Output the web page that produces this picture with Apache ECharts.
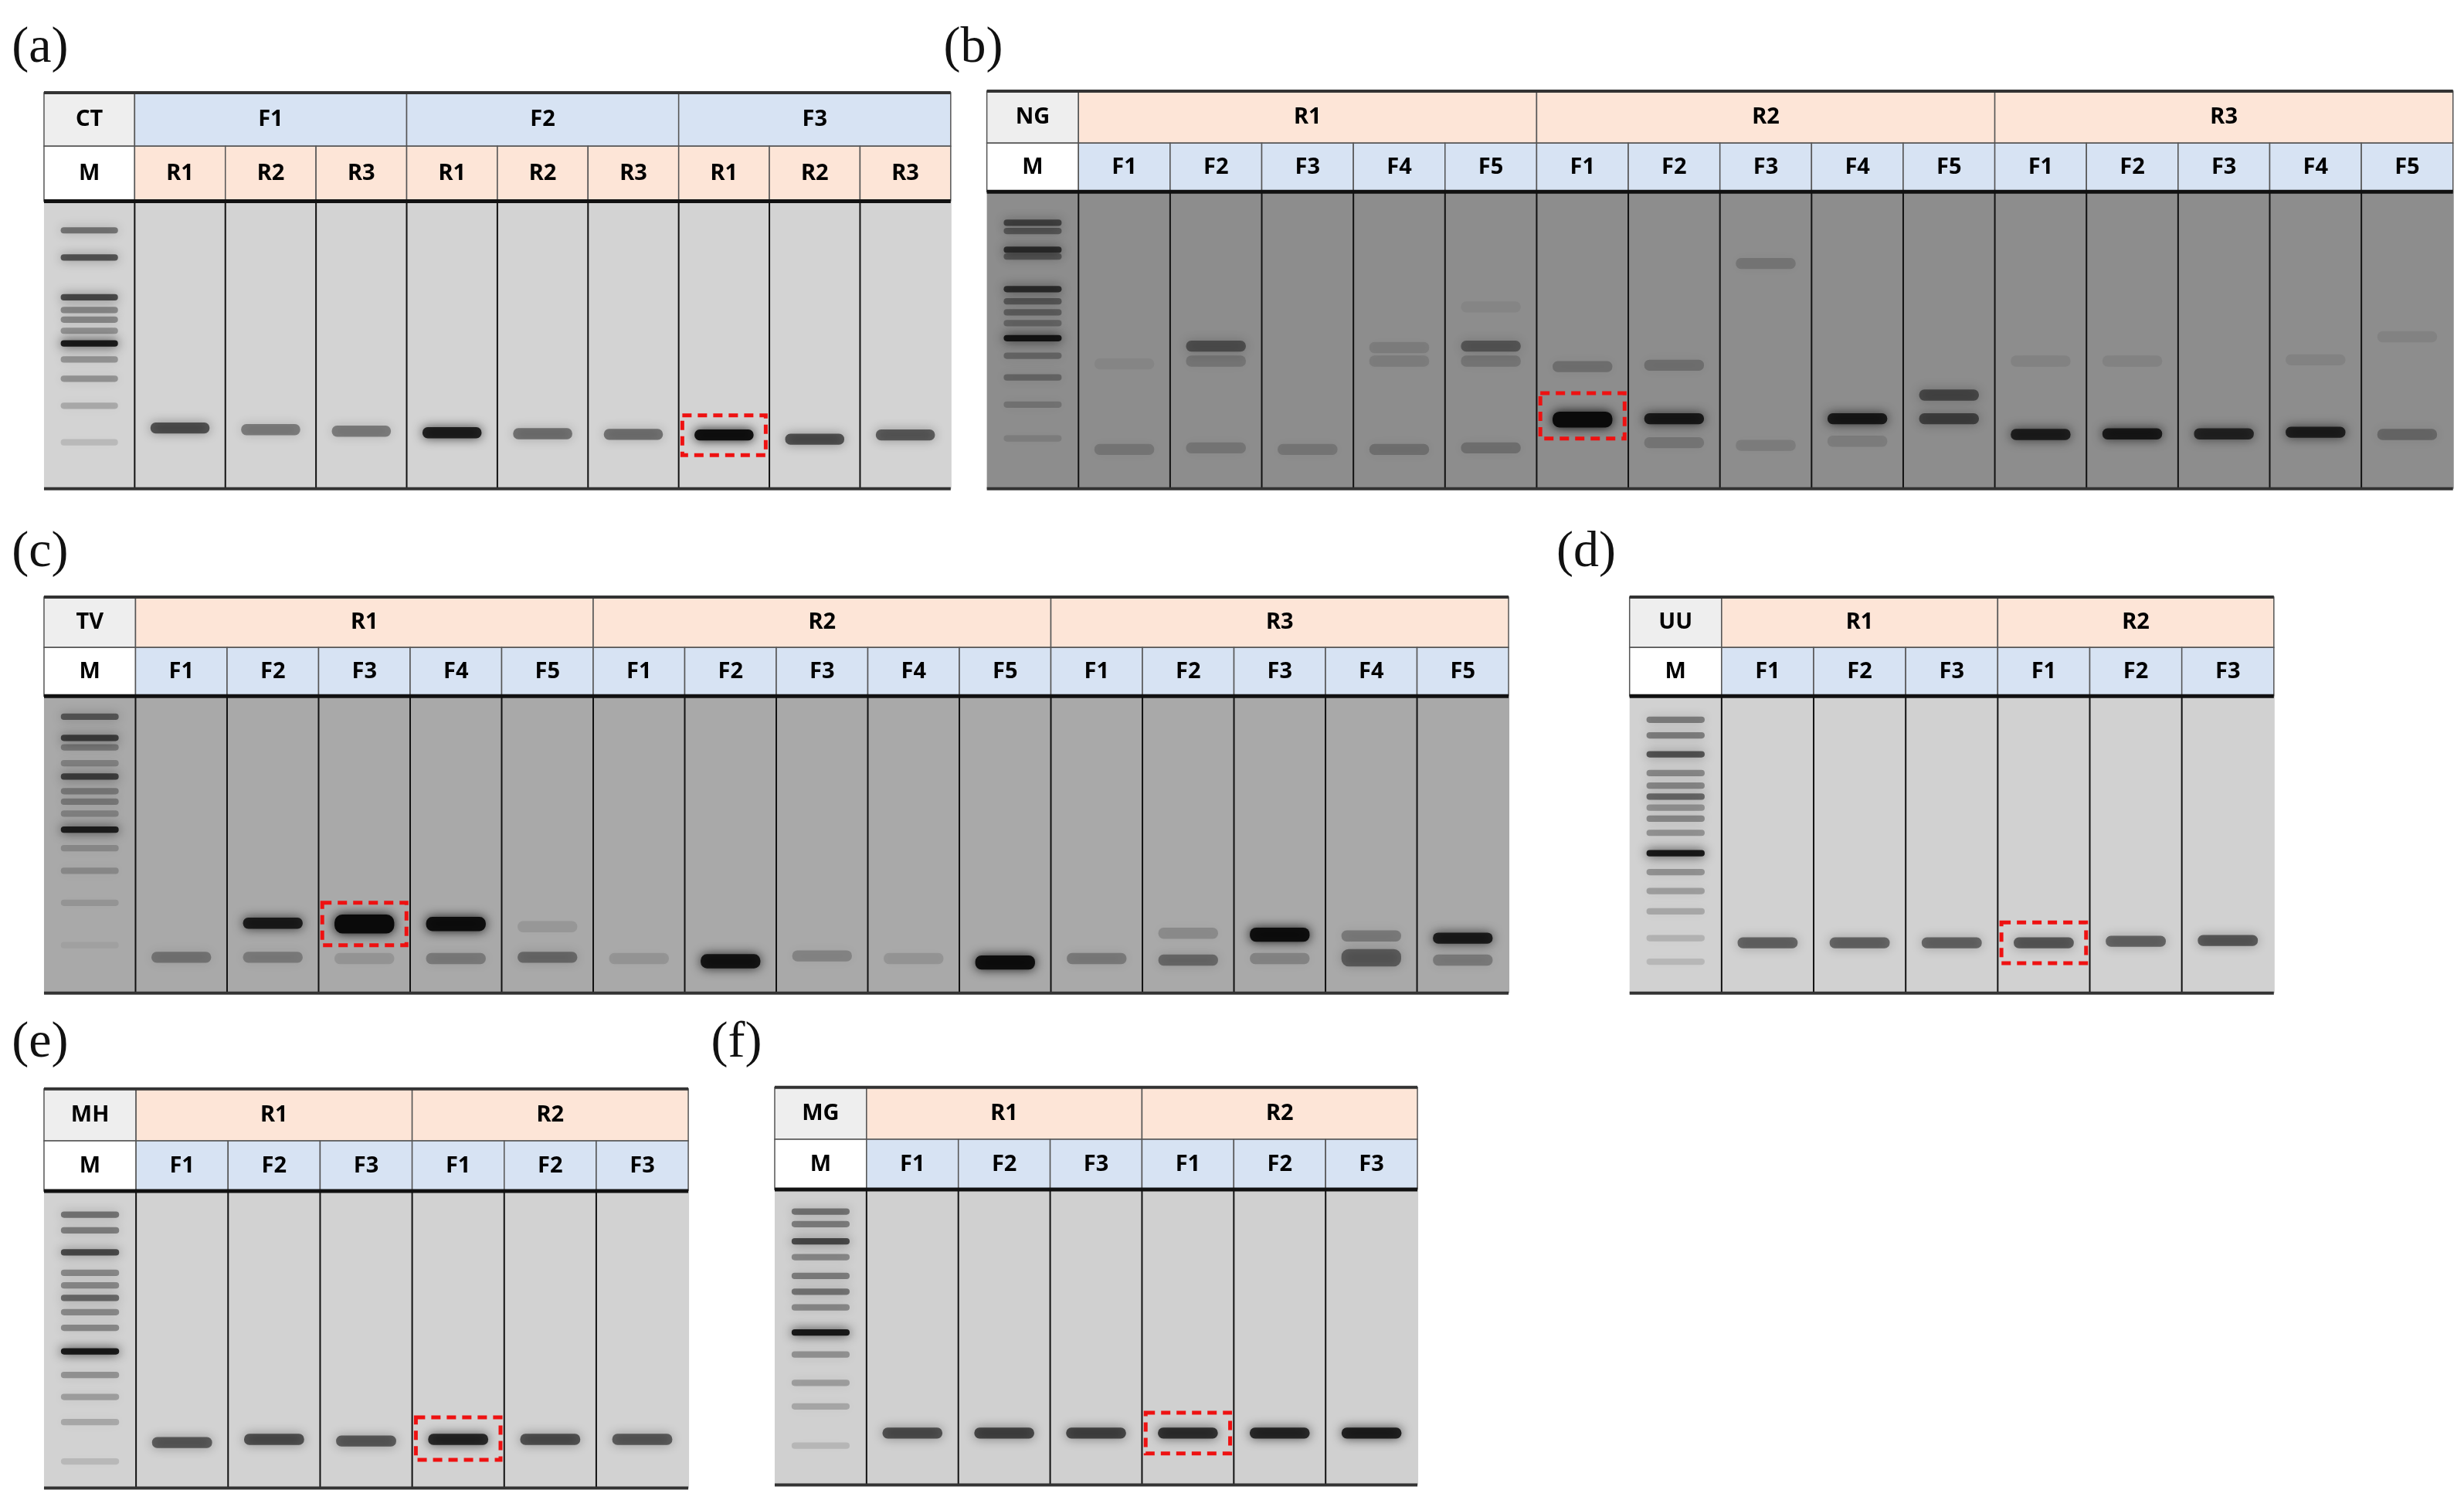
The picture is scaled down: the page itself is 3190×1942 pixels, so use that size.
<!DOCTYPE html>
<html>
<head>
<meta charset="utf-8">
<script src="https://cdn.jsdelivr.net/npm/echarts@6/dist/echarts.min.js"></script>
<style>html,body{margin:0;padding:0;background:#fff}#chart{width:3190px;height:1942px}</style>
</head>
<body>
<div id="chart"></div>
<script>
// 参考图按 1568 宽度读数，绘制时放大
const S = 3190 / 1568

const R3 = ['R1', 'R2', 'R3']
const R2 = ['R1', 'R2']
const F3 = ['F1', 'F2', 'F3']
const F5 = ['F1', 'F2', 'F3', 'F4', 'F5']

// 条带: [泳道, 位置, 强度, 高度]
const ladderA = [[146.6, .45], [163.9, .6], [189.2, .65], [197.3, .35], [203.4, .35], [210.5, .3], [218.6, .9], [228.8, .3], [241, .3], [258.2, .2], [281.5, .12]]
const bandsA = [[1, 272.4, .6], [2, 273.4, .4], [3, 274.4, .4], [4, 275.4, .85], [5, 276, .45], [6, 276.4, .45], [7, 276.8, .95], [8, 279.5, .6], [9, 276.8, .55]]
const boxA = [7, 264.3, 289.6]

const ladderB = [[141.8, .55], [147, .4], [159, .7], [163.3, .4], [184, .7], [191.8, .4], [198.8, .35], [205.7, .3], [215.2, .9], [226.4, .3], [240.2, .3], [257.5, .2], [279, .12]]
const bandsB = [
  [1, 231.6, .06], [1, 286, .18],
  [2, 220.3, .45], [2, 229.8, .18], [2, 285, .18],
  [3, 286, .18],
  [4, 221.2, .12], [4, 229.8, .12], [4, 286, .22],
  [5, 195.3, .06], [5, 220.3, .4], [5, 229.8, .18], [5, 285, .22],
  [6, 233.3, .22], [6, 267, 1, 13],
  [7, 232.4, .22], [7, 266.5, .85], [7, 281.7, .18],
  [8, 167.7, .18], [8, 283.4, .12],
  [9, 266.5, .85], [9, 280.8, .12],
  [10, 251.4, .5], [10, 266.5, .55],
  [11, 229.8, .08], [11, 276.5, .8],
  [12, 229.8, .08], [12, 276.1, .85],
  [13, 276.1, .75],
  [14, 229, .08], [14, 275.1, .8],
  [15, 214.3, .08], [15, 276.5, .28]
]
const boxB = [6, 250.2, 279.1]

const ladderC = [[456.1, .5], [469.6, .65], [475.6, .3], [485.7, .25], [494.2, .65], [503.5, .3], [510.2, .3], [517.8, .25], [528, .85], [539.8, .2], [554.2, .2], [574.5, .12], [601.5, .06]]
const bandsC = [
  [1, 609.2, .32],
  [2, 587.5, .85], [2, 609.2, .28],
  [3, 588, 1, 15], [3, 610, .12],
  [4, 588, .95, 12], [4, 610, .28],
  [5, 589.7, .1], [5, 609.2, .38],
  [6, 610, .12],
  [7, 611.7, .9, 12],
  [8, 608.3, .22],
  [9, 610, .12],
  [10, 612.5, .95, 12],
  [11, 610, .28],
  [12, 593.9, .18], [12, 611, .38],
  [13, 594.8, .95, 12], [13, 610, .22],
  [14, 595.6, .28], [14, 609.5, .45, 14],
  [15, 597, .85], [15, 611, .28]
]
const boxC = [3, 574.5, 601.5]

const ladderD = [[458, .4], [468, .4], [480, .6], [492, .35], [500, .35], [507, .5], [514, .3], [521, .35], [530, .3], [543, .9], [555, .3], [567, .25], [580, .2], [597, .15], [612, .12]]
const bandsD = [[1, 600, .5], [2, 600, .5], [3, 600, .5], [4, 600, .55], [5, 599, .5], [6, 598.5, .55]]
const boxD = [4, 587, 613]

const ladderE = [[773, .45], [783, .4], [797, .65], [810, .35], [818, .35], [826, .5], [835, .35], [845, .35], [860, .9], [875, .3], [889, .25], [905, .2], [930, .12]]
const bandsE = [[1, 918, .55], [2, 916, .6], [3, 917, .55], [4, 916, .8], [5, 916, .6], [6, 916, .55]]
const boxE = [4, 902, 929]

const ladderF = [[771, .45], [779, .4], [790, .65], [800, .35], [812, .4], [822, .45], [832, .35], [848, .9], [862, .3], [880, .25], [895, .2], [920, .12]]
const bandsF = [[1, 912, .6], [2, 912, .65], [3, 912, .65], [4, 912, .75], [5, 912, .8], [6, 912, .85]]
const boxF = [4, 899, 925]

const BLUE = '#d7e3f3'
const PEACH = '#fde5d7'

const panels = [
  { tag: '(a)', lx: 5, ly: 12, box: [28, 605, 59, 93, 128, 311], corner: 'CT', top: F3, sub: R3, topColor: BLUE, subColor: PEACH, gel: '#d3d3d3', ladder: ladderA, bands: bandsA, red: boxA },
  { tag: '(b)', lx: 598, ly: 12, box: [628, 1561, 58, 91, 122, 311], corner: 'NG', top: R3, sub: F5, topColor: PEACH, subColor: BLUE, gel: '#8d8d8d', ladder: ladderB, bands: bandsB, red: boxB },
  { tag: '(c)', lx: 5, ly: 333, box: [28, 960, 380, 412, 443, 632], corner: 'TV', top: R3, sub: F5, topColor: PEACH, subColor: BLUE, gel: '#a9a9a9', ladder: ladderC, bands: bandsC, red: boxC },
  { tag: '(d)', lx: 988, ly: 333, box: [1037, 1447, 380, 412, 443, 632], corner: 'UU', top: R2, sub: F3, topColor: PEACH, subColor: BLUE, gel: '#d1d1d1', ladder: ladderD, bands: bandsD, red: boxD },
  { tag: '(e)', lx: 5, ly: 645, box: [28, 438, 693, 726, 758, 947], corner: 'MH', top: R2, sub: F3, topColor: PEACH, subColor: BLUE, gel: '#d2d2d2', ladder: ladderE, bands: bandsE, red: boxE },
  { tag: '(f)', lx: 450, ly: 645, box: [493, 902, 692, 725, 757, 945], corner: 'MG', top: R2, sub: F3, topColor: PEACH, subColor: BLUE, gel: '#d0d0d0', ladder: ladderF, bands: bandsF, red: boxF }
]

const FONT = '"Liberation Sans Narrow", "Noto Sans", sans-serif'

const grids = [], xAxes = [], yAxes = [], series = [], titles = []

panels.forEach((p, k) => {
  const [x0, x1, yTop, yMid, yGel, yBot] = p.box
  const nLanes = p.top.length * p.sub.length + 1
  grids.push({ left: x0 * S, top: yTop * S, width: (x1 - x0) * S, height: (yBot - yTop) * S })
  xAxes.push({ gridIndex: k, type: 'value', min: 0, max: nLanes, show: false })
  yAxes.push({ gridIndex: k, type: 'value', min: yTop, max: yBot, inverse: true, show: false })
  titles.push({ text: p.tag, left: p.lx * S, top: p.ly * S, textStyle: { fontFamily: '"Liberation Serif", "DejaVu Serif", serif', fontWeight: 'normal', fontSize: 66, color: '#111' } })

  // 表头单元格
  const cells = [[0, 1, yTop, yMid, p.corner, '#eeeeee'], [0, 1, yMid, yGel, 'M', '#ffffff']]
  p.top.forEach((t, i) => {
    const a = 1 + i * p.sub.length
    cells.push([a, a + p.sub.length, yTop, yMid, t, p.topColor])
    p.sub.forEach((s, j) => cells.push([a + j, a + j + 1, yMid, yGel, s, p.subColor]))
  })

  series.push({
    type: 'custom', xAxisIndex: k, yAxisIndex: k, silent: true,
    data: cells.map(c => [c[0], c[2]]),
    renderItem: (params, api) => {
      const c = cells[params.dataIndex]
      const a = api.coord([c[0], c[2]]), b = api.coord([c[1], c[3]])
      return {
        type: 'group', children: [
          { type: 'rect', shape: { x: a[0], y: a[1], width: b[0] - a[0], height: b[1] - a[1] }, style: { fill: c[5], stroke: '#555', lineWidth: 1.5 } },
          { type: 'text', style: { x: (a[0] + b[0]) / 2, y: (a[1] + b[1]) / 2, text: c[4], fill: '#000', font: 'bold 29px ' + FONT, align: 'center', verticalAlign: 'middle' } }
        ]
      }
    }
  })

  // 凝胶区域与泳道分隔线
  const lanes = []
  for (let i = 0; i < nLanes; i++) lanes.push(i)
  series.push({
    type: 'custom', xAxisIndex: k, yAxisIndex: k, silent: true,
    data: lanes.map(i => [i, yGel]),
    renderItem: (params, api) => {
      const i = params.dataIndex
      const a = api.coord([i, yGel]), b = api.coord([i + 1, yBot])
      const children = [
        { type: 'rect', shape: { x: a[0], y: a[1], width: b[0] - a[0] + 1, height: b[1] - a[1] }, style: { fill: p.gel } }
      ]
      if (i > 0) children.push({ type: 'line', shape: { x1: a[0], y1: a[1], x2: a[0], y2: b[1] }, style: { stroke: '#111', lineWidth: 2 } })
      if (i === nLanes - 1) {
        const t = api.coord([0, yTop]), g = api.coord([0, yGel])
        children.push({ type: 'line', shape: { x1: t[0], y1: t[1], x2: b[0], y2: t[1] }, style: { stroke: '#333', lineWidth: 4 } })
        children.push({ type: 'line', shape: { x1: t[0], y1: g[1], x2: b[0], y2: g[1] }, style: { stroke: '#111', lineWidth: 5 } })
        children.push({ type: 'line', shape: { x1: t[0], y1: b[1], x2: b[0], y2: b[1] }, style: { stroke: '#333', lineWidth: 4 } })
      }
      return { type: 'group', children }
    }
  })

  // 条带（含 marker），模糊以模拟凝胶
  const allBands = p.ladder.map(l => [0, l[0], l[1], 7, 0.7]).concat(p.bands.map(b => [b[0], b[1], b[2], b[3] || 10, 0.72]))
  series.push({
    type: 'custom', xAxisIndex: k, yAxisIndex: k, silent: true,
    data: allBands.map(b => [b[0], b[1]]),
    renderItem: (params, api) => {
      const b = allBands[params.dataIndex]
      const c = api.coord([b[0] + 0.5, b[1]])
      const w = api.size([1, 0])[0] * b[4]
      const h = b[3] * S
      const col = 'rgba(10,10,10,' + b[2] + ')'
      return {
        type: 'rect', shape: { x: c[0] - w / 2 + 4, y: c[1] - h / 2 + 3, width: w - 8, height: h - 6, r: h / 3 },
        style: { fill: col, shadowBlur: 14, shadowColor: col }
      }
    }
  })

  // 红色虚线框
  series.push({
    type: 'custom', xAxisIndex: k, yAxisIndex: k, silent: true,
    data: [[p.red[0], p.red[1]]],
    renderItem: (params, api) => {
      const a = api.coord([p.red[0] + 0.04, p.red[1]]), b = api.coord([p.red[0] + 0.96, p.red[2]])
      return {
        type: 'rect', shape: { x: a[0], y: a[1], width: b[0] - a[0], height: b[1] - a[1] },
        style: { fill: 'none', stroke: '#ee1111', lineWidth: 5, lineDash: [12, 8] }
      }
    }
  })
})

const myChart = echarts.init(document.getElementById('chart'))
myChart.setOption({
  backgroundColor: '#ffffff',
  animation: false,
  title: titles,
  grid: grids,
  xAxis: xAxes,
  yAxis: yAxes,
  series
})
</script>
</body>
</html>
